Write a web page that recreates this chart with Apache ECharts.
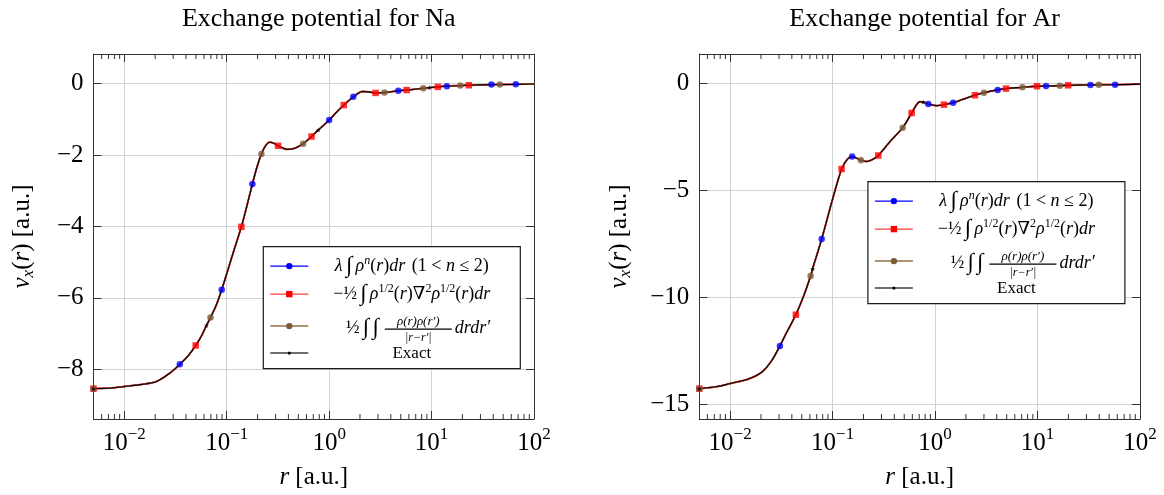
<!DOCTYPE html>
<html>
<head>
<meta charset="utf-8">
<script src="https://cdn.jsdelivr.net/npm/echarts@6/dist/echarts.min.js"></script>
<style>html,body{margin:0;padding:0;background:#fff}#c{width:1164px;height:495px}</style>
</head>
<body>
<div id="c"></div>
<script>
// ---------------- data ----------------
const titles = ['Exchange potential for Na', 'Exchange potential for Ar'];
const yTicksNa = [-8, -6, -4, -2, 0];
const yTicksAr = [-15, -10, -5, 0];
const xMinorTicks = [0.006,0.007,0.008,0.009,0.02,0.03,0.04,0.05,0.06,0.07,0.08,0.09,0.2,0.3,0.4,0.5,0.6,0.7,0.8,0.9,2,3,4,5,6,7,8,9,20,30,40,50,60,70,80,90];

// Na : exact curve  [r, v_x]
const naCurve = [[0.005,-8.54],[0.0075,-8.52],[0.01,-8.48],[0.015,-8.42],[0.0206,-8.34],[0.0277,-8.11],[0.0348,-7.86],[0.042,-7.62],[0.0498,-7.33],[0.057,-7.05],[0.0634,-6.77],[0.0694,-6.55],[0.079,-6.20],[0.0893,-5.77],[0.1,-5.32],[0.118,-4.65],[0.139,-4.01],[0.158,-3.40],[0.178,-2.81],[0.198,-2.32],[0.218,-1.97],[0.239,-1.74],[0.263,-1.64],[0.288,-1.67],[0.317,-1.74],[0.389,-1.84],[0.46,-1.81],[0.557,-1.68],[0.673,-1.48],[0.782,-1.30],[1.0,-1.02],[1.18,-0.80],[1.39,-0.60],[1.72,-0.37],[2.12,-0.22],[2.45,-0.23],[2.84,-0.26],[3.47,-0.25],[4.73,-0.20],[5.71,-0.18],[8.3,-0.13],[11.5,-0.09],[14.1,-0.07],[19.1,-0.055],[23.1,-0.045],[38.4,-0.027],[46.3,-0.025],[66.4,-0.02],[100,-0.01]];
const naBlue  = [[0.0348,-7.86],[0.0893,-5.77],[0.178,-2.81],[1.0,-1.02],[1.72,-0.37],[4.73,-0.20],[14.1,-0.07],[38.4,-0.027],[66.4,-0.02]];
const naRed   = [[0.005,-8.54],[0.0498,-7.33],[0.139,-4.01],[0.317,-1.74],[0.673,-1.48],[1.39,-0.60],[2.84,-0.26],[5.71,-0.18],[11.5,-0.09],[23.1,-0.045]];
const naBrown = [[0.005,-8.54],[0.0694,-6.55],[0.218,-1.97],[0.557,-1.68],[3.47,-0.25],[8.3,-0.13],[19.1,-0.055],[46.3,-0.025]];
const naStar  = [[0.005,-8.54],[0.0634,-6.77],[0.782,-1.30],[9.5,-0.11]];

// Ar : exact curve  [r, v_x]
const arCurve = [[0.005,-14.27],[0.0075,-14.17],[0.01,-14.03],[0.015,-13.82],[0.0203,-13.50],[0.0255,-12.95],[0.0306,-12.27],[0.0355,-11.65],[0.0398,-11.20],[0.0438,-10.81],[0.052,-9.95],[0.061,-9.0],[0.0638,-8.66],[0.0782,-7.27],[0.1,-5.40],[0.1225,-3.99],[0.14,-3.52],[0.155,-3.41],[0.189,-3.58],[0.215,-3.64],[0.245,-3.55],[0.279,-3.36],[0.363,-2.71],[0.483,-2.06],[0.591,-1.37],[0.66,-0.98],[0.712,-0.84],[0.766,-0.86],[0.859,-0.95],[1.04,-1.03],[1.22,-0.98],[1.50,-0.89],[1.95,-0.70],[2.45,-0.54],[3.0,-0.42],[4.08,-0.29],[4.92,-0.23],[7.11,-0.17],[9.89,-0.12],[12.1,-0.11],[16.5,-0.09],[19.9,-0.075],[32.8,-0.06],[39.6,-0.047],[57.1,-0.045],[100,-0.02]];
const arBlue  = [[0.0306,-12.27],[0.0782,-7.27],[0.155,-3.41],[0.859,-0.95],[1.50,-0.89],[4.08,-0.29],[12.1,-0.11],[32.8,-0.06],[57.1,-0.045]];
const arRed   = [[0.005,-14.27],[0.0438,-10.81],[0.1225,-3.99],[0.279,-3.36],[0.591,-1.37],[1.22,-0.98],[2.45,-0.54],[4.92,-0.23],[9.89,-0.12],[19.9,-0.075]];
const arBrown = [[0.005,-14.27],[0.061,-9.0],[0.189,-3.58],[0.483,-2.06],[3.0,-0.42],[7.11,-0.17],[16.5,-0.09],[39.6,-0.047]];
const arStar  = [[0.005,-14.27],[0.0638,-8.66],[0.766,-0.86]];

// ---------------- styling ----------------
const SERIF = "'Liberation Serif','DejaVu Serif',serif";
const C_BLUE = '#0000ff', C_RED = '#ff0000', C_BROWN = '#7d5a36';
const STAR = 'path://M0,-10 L2.35,-3.24 L9.51,-3.09 L3.8,1.24 L5.88,8.09 L0,4 L-5.88,8.09 L-3.8,1.24 L-9.51,-3.09 L-2.35,-3.24 Z';

const grids = [
  {left: 93.5, top: 54, width: 440.5, height: 365},
  {left: 699.3, top: 54, width: 440.7, height: 365}
];
const yRange = [[-9.39, 0.83, yTicksNa], [-15.69, 1.39, yTicksAr]];

function minus(v){ return v < 0 ? '\u2212' + Math.abs(v) : String(v); }

const xLabelRich = {
  b: {fontFamily: SERIF, fontSize: 25, color: '#000', lineHeight: 30, verticalAlign: 'bottom'},
  s: {fontFamily: SERIF, fontSize: 17, color: '#000', lineHeight: 26, verticalAlign: 'top'}
};
function xFormatter(v){
  const e = Math.log10(v);
  if (Math.abs(e - Math.round(e)) > 1e-6) return '';
  return '{b|10}{s|' + minus(Math.round(e)) + '}';
}

const xAxes = [], yAxes = [];
grids.forEach((g, gi) => {
  ['bottom', 'top'].forEach((pos, k) => {
    xAxes.push({
      type: 'log', logBase: 10, gridIndex: gi, position: pos, min: 0.005, max: 100,
      axisLine: {show: true, onZero: false, lineStyle: {color: '#333', width: 1}},
      axisTick: {show: true, inside: true, length: 8, lineStyle: {color: '#333'}},
      splitLine: {show: k === 0, lineStyle: {color: '#d2d2d2', width: 1}},
      minorTick: {show: false}, minorSplitLine: {show: false},
      axisLabel: k === 0 ? {show: true, margin: 7, formatter: xFormatter, rich: xLabelRich} : {show: false},
      name: k === 0 ? '{i|r} [a.u.]' : '',
      nameLocation: 'middle', nameGap: 46,
      nameTextStyle: {fontFamily: SERIF, fontSize: 25, color: '#000',
        rich: {i: {fontFamily: SERIF, fontSize: 25, fontStyle: 'italic', color: '#000'}}}
    });
  });
  ['left', 'right'].forEach((pos, k) => {
    const [mn, mx, ticks] = yRange[gi];
    yAxes.push({
      type: 'value', gridIndex: gi, position: pos, min: mn, max: mx,
      axisLine: {show: true, onZero: false, lineStyle: {color: '#333', width: 1}},
      axisTick: {show: true, inside: true, length: 8, lineStyle: {color: '#333'}, customValues: ticks},
      splitLine: {show: k === 0, lineStyle: {color: '#d2d2d2', width: 1}},
      axisLabel: k === 0 ? {show: true, margin: 10, fontFamily: SERIF, fontSize: 25, color: '#000',
        customValues: ticks, formatter: v => minus(Math.round(v))} : {show: false},
      name: k === 0 ? '{i|v}{sub|x}({i|r}) [a.u.]' : '',
      nameLocation: 'middle', nameGap: gi === 0 ? 56 : 65, nameRotate: 90,
      nameTextStyle: {fontFamily: SERIF, fontSize: 25, color: '#000', lineHeight: 30,
        rich: {
          i: {fontFamily: SERIF, fontSize: 25, fontStyle: 'italic', color: '#000', lineHeight: 30},
          sub: {fontFamily: SERIF, fontSize: 17, fontStyle: 'italic', color: '#000', lineHeight: 16, verticalAlign: 'bottom'}
        }}
    });
  });
});

function minorRender(params, api){
  const cs = params.coordSys;
  const px = api.coord([api.value(0), 0])[0];
  const yb = cs.y + cs.height, yt = cs.y;
  return {type: 'group', children: [
    {type: 'line', shape: {x1: px, y1: yb, x2: px, y2: yb - 5}, style: {stroke: '#333', lineWidth: 1}},
    {type: 'line', shape: {x1: px, y1: yt, x2: px, y2: yt + 5}, style: {stroke: '#333', lineWidth: 1}}
  ]};
}

const series = [];
const sets = [
  {curve: naCurve, blue: naBlue, red: naRed, brown: naBrown, star: naStar},
  {curve: arCurve, blue: arBlue, red: arRed, brown: arBrown, star: arStar}
];
sets.forEach((s, gi) => {
  const ax = {xAxisIndex: gi * 2, yAxisIndex: gi * 2};
  series.push({type: 'custom', ...ax, data: xMinorTicks.map(v => [v, 0]), renderItem: minorRender, silent: true, clip: false, z: 1});
  [[C_BLUE, 1.4], [C_RED, 1.8], ['#bf8040', 1.4]].forEach(([c, w]) => {
    series.push({type: 'line', ...ax, data: s.curve, smooth: 0.3, showSymbol: false, symbol: 'none',
      lineStyle: {color: c, width: w}, silent: true, z: 2});
  });
  series.push({type: 'line', ...ax, data: s.curve, smooth: 0.3, showSymbol: false, symbol: 'none',
    lineStyle: {color: '#000', width: 1.1}, silent: true, z: 3});
  series.push({type: 'scatter', ...ax, data: s.red, symbol: 'rect', symbolSize: 6.5, itemStyle: {color: C_RED}, z: 4, silent: true});
  series.push({type: 'scatter', ...ax, data: s.brown, symbol: 'circle', symbolSize: 6.5, itemStyle: {color: C_BROWN}, z: 4, silent: true});
  series.push({type: 'scatter', ...ax, data: s.blue, symbol: 'circle', symbolSize: 6.5, itemStyle: {color: C_BLUE}, z: 4, silent: true});
  series.push({type: 'scatter', ...ax, data: s.star, symbol: STAR, symbolSize: 5, itemStyle: {color: '#000'}, z: 5, silent: true});
});

// ---------------- legend (graphic) ----------------
const R = '{i|r}';
const mathRich = {
  i: {fontFamily: SERIF, fontStyle: 'italic', fontSize: 18, color: '#000', lineHeight: 22},
  n: {fontFamily: SERIF, fontSize: 18, color: '#000', lineHeight: 22},
  int: {fontFamily: SERIF, fontSize: 23, color: '#000', lineHeight: 22},
  sup: {fontFamily: SERIF, fontStyle: 'italic', fontSize: 12, color: '#000', lineHeight: 12, verticalAlign: 'top'},
  supn: {fontFamily: SERIF, fontSize: 12, color: '#000', lineHeight: 12, verticalAlign: 'top'},
  fr: {fontFamily: SERIF, fontSize: 18, color: '#000', lineHeight: 22}
};
function legendGroup(left, top){
  const rows = [20, 48, 80, 107];
  const ch = [];
  ch.push({type: 'rect', z: 100, shape: {x: 0.5, y: 0.5, width: 257, height: 122}, style: {fill: '#fff', stroke: '#1a1a1a', lineWidth: 1.2}});
  const lineCols = [C_BLUE, '#ff3a3a', '#ad9274', '#6e6e6e'];
  const lineW = [1.2, 1.2, 2, 2];
  rows.forEach((y, i) => {
    ch.push({type: 'line', z: 101, shape: {x1: 7.5, y1: y, x2: 45.5, y2: y}, style: {stroke: lineCols[i], lineWidth: lineW[i]}});
  });
  ch.push({type: 'circle', z: 102, shape: {cx: 26.5, cy: rows[0], r: 3.2}, style: {fill: C_BLUE}});
  ch.push({type: 'rect', z: 102, shape: {x: 23.3, y: rows[1] - 3.2, width: 6.4, height: 6.4}, style: {fill: C_RED}});
  ch.push({type: 'circle', z: 102, shape: {cx: 26.5, cy: rows[2], r: 3.2}, style: {fill: C_BROWN}});
  ch.push({type: 'circle', z: 102, shape: {cx: 26.5, cy: rows[3], r: 1.6}, style: {fill: '#000'}});
  const cx = 149;
  ch.push({type: 'text', z: 102, x: cx, y: rows[0], style: {
    text: '{i|λ} {int|∫} {i|ρ}{sup|n}{n|(}' + R + '{n|)}{i|dr}  {n|(1 < }{i|n}{n| ≤ 2)}',
    align: 'center', verticalAlign: 'middle', rich: mathRich}});
  ch.push({type: 'text', z: 102, x: cx, y: rows[1], style: {
    text: '{n|\u2212}{fr|½} {int|∫} {i|ρ}{supn|1/2}{n|(}' + R + '{n|)∇}{supn|2}{i|ρ}{supn|1/2}{n|(}' + R + '{n|)}{i|dr}',
    align: 'center', verticalAlign: 'middle', rich: mathRich}});
  // third row: 1/2 ∫∫ fraction d r d r'
  ch.push({type: 'text', z: 102, x: 116, y: rows[2] + 2, style: {
    text: '{fr|½} {int|∫} {int|∫}', align: 'right', verticalAlign: 'middle', rich: mathRich}});
  ch.push({type: 'line', z: 102, shape: {x1: 122, y1: rows[2] + 3, x2: 189, y2: rows[2] + 3}, style: {stroke: '#000', lineWidth: 1.3}});
  ch.push({type: 'text', z: 102, x: 155.5, y: rows[2] - 4.5, style: {
    text: 'ρ(r)ρ(r′)', align: 'center', verticalAlign: 'middle',
    fontFamily: SERIF, fontStyle: 'italic', fontSize: 13, fill: '#000'}});
  ch.push({type: 'text', z: 102, x: 155.5, y: rows[2] + 11.5, style: {
    text: '|r\u2212r′|', align: 'center', verticalAlign: 'middle',
    fontFamily: SERIF, fontStyle: 'italic', fontSize: 12, fill: '#000'}});
  ch.push({type: 'text', z: 102, x: 192, y: rows[2] + 2, style: {
    text: '{i|drdr′}', align: 'left', verticalAlign: 'middle', rich: mathRich}});
  ch.push({type: 'text', z: 102, x: cx, y: rows[3], style: {
    text: 'Exact', align: 'center', verticalAlign: 'middle', fontFamily: SERIF, fontSize: 17, fill: '#000'}});
  return {type: 'group', left: left, top: top, z: 100, children: ch};
}

const chart = echarts.init(document.getElementById('c'), null, {renderer: 'canvas'});
chart.setOption({
  animation: false,
  backgroundColor: '#fff',
  title: titles.map((t, i) => ({
    text: t, left: grids[i].left + grids[i].width / 2, top: 1, textAlign: 'center',
    textStyle: {fontFamily: SERIF, fontSize: 26, fontWeight: 'normal', color: '#000'}
  })),
  grid: grids.map(g => ({...g, containLabel: false})),
  xAxis: xAxes,
  yAxis: yAxes,
  series: series,
  graphic: [legendGroup(262.7, 246), legendGroup(867.3, 181)]
});
</script>
</body>
</html>
